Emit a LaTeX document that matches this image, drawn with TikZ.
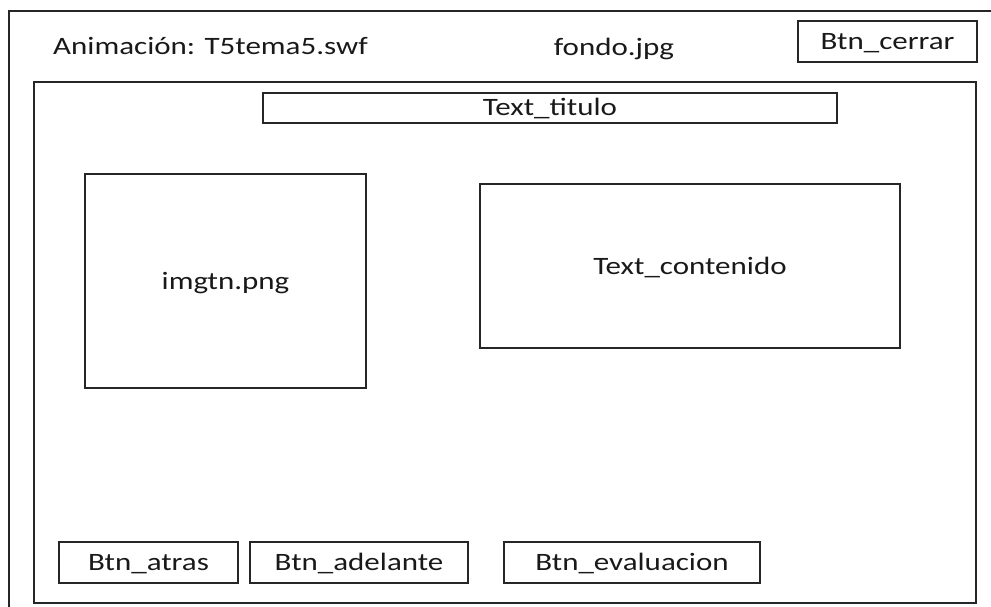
\documentclass[tikz,border=0pt]{standalone}
\usepackage{fontspec}
\setmainfont{Carlito}[FakeStretch=1.24]
\tikzset{
  frame/.style={draw=black!85, line width=1.2pt},
  wbox/.style={frame, rectangle, inner sep=0pt, text height=16pt, text depth=0pt},
  label/.style={inner sep=0pt, text height=16pt, text depth=0pt},
}
\begin{document}
\begin{tikzpicture}[x=1pt, y=-1pt, font=\fontsize{25}{30}\selectfont, text=black!90]
\useasboundingbox (0,0) rectangle (991,607);
% outer frame (extends beyond picture)
\coordinate (obl) at (9,612);
\coordinate (otl) at (9,11);
\coordinate (otr) at (996,11);
\draw[frame] (obl) -- (otl) -- (otr);
% inner frame
\node[frame, rectangle, minimum width=942pt, minimum height=521pt, inner sep=0pt] (pantalla) at (505,342.5) {};
% top texts
\node[label] (anim) at (210.5,47) {Animación: T5tema5.swf};
\node[label] (fondo) at (614,48) {fondo.jpg};
\node[wbox, minimum width=179pt, minimum height=41pt] (cerrar) at (887.5,41.5) {Btn\_cerrar};
% title
\node[wbox, minimum width=574pt, minimum height=30pt] (titulo) at (550,108) {Text\_titulo};
% content
\node[wbox, minimum width=281pt, minimum height=214pt] (img) at (225.5,281) {imgtn.png};
\node[wbox, minimum width=420pt, minimum height=164pt] (contenido) at (690,266) {Text\_contenido};
% buttons
\node[wbox, minimum width=179pt, minimum height=41pt] (atras) at (148.5,562.5) {Btn\_atras};
\node[wbox, minimum width=218pt, minimum height=41pt] (adelante) at (359,562.5) {Btn\_adelante};
\node[wbox, minimum width=256pt, minimum height=41pt] (evaluacion) at (632,562.5) {Btn\_evaluacion};
\end{tikzpicture}
\end{document}
